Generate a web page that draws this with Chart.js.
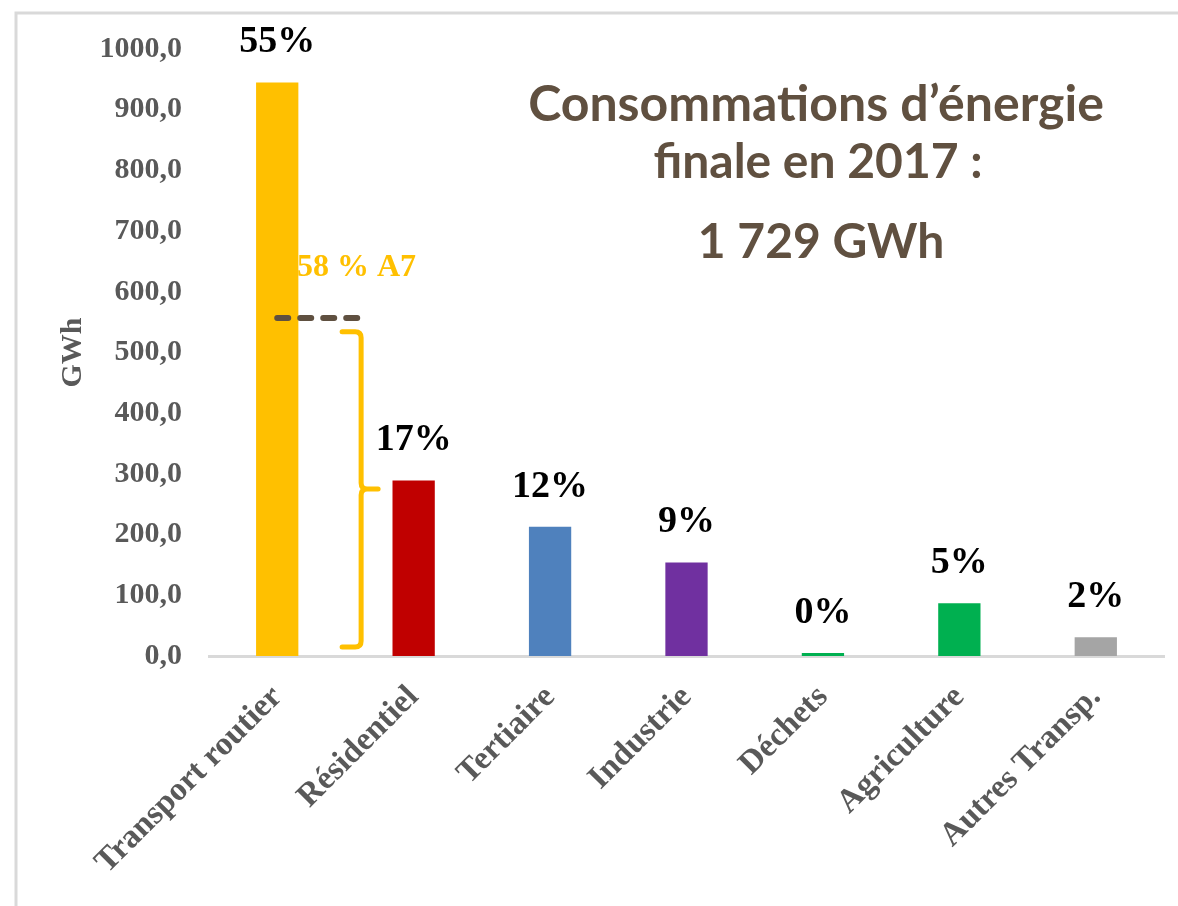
<!DOCTYPE html>
<html>
<head>
<meta charset="utf-8">
<script src="https://cdn.jsdelivr.net/npm/chart.js@4"></script>
<style>
  html, body { margin: 0; padding: 0; background: #fff; }
  #energyChart { display: block; }
</style>
</head>
<body>
<canvas id="energyChart" width="1178" height="906"></canvas>
<script>
const categories = ['Transport routier', 'Résidentiel', 'Tertiaire', 'Industrie', 'Déchets', 'Agriculture', 'Autres Transp.'];
const consumption = [945, 289, 213, 154, 5, 87, 31];
const shareLabels = ['55%', '17%', '12%', '9%', '0%', '5%', '2%'];
const barColors = ['#FFC000', '#C00000', '#4F81BD', '#7030A0', '#00B050', '#00B050', '#A5A5A5'];
const titleLines = ['Consommations d\u2019énergie', 'finale en 2017 :', '1 729 GWh'];
const a7Label = '58 % A7';
const a7Level = 557;
const braceRange = [534, 275, 15]; // top, middle, bottom (GWh)

const serif = '"Liberation Serif", "Times New Roman", serif';

const frame = {
  id: 'frame',
  beforeDraw(chart) {
    const c = chart.ctx;
    c.save();
    c.fillStyle = '#fff';
    c.fillRect(0, 0, chart.width, chart.height);
    c.strokeStyle = '#D9D9D9';
    c.lineWidth = 3;
    c.beginPath();
    c.moveTo(16, chart.height);
    c.lineTo(16, 13);
    c.lineTo(chart.width, 13);
    c.stroke();
    c.restore();
  }
};

const shareText = {
  id: 'shareText',
  afterDatasetsDraw(chart) {
    const c = chart.ctx;
    const bars = chart.getDatasetMeta(0).data;
    c.save();
    c.font = 'bold 38px ' + serif;
    c.fillStyle = '#000';
    c.textAlign = 'center';
    c.textBaseline = 'middle';
    bars.forEach((bar, i) => {
      c.fillText(shareLabels[i], bar.x, bar.y - 40);
    });
    c.restore();
  }
};

const notes = {
  id: 'notes',
  afterDraw(chart) {
    const c = chart.ctx;
    const x = chart.scales.x;
    const y = chart.scales.y;
    c.save();

    // title block
    c.fillStyle = '#605040';
    c.textAlign = 'center';
    c.textBaseline = 'middle';
    c.font = 'bold 50px Lato, "Open Sans", sans-serif';
    c.fillText(titleLines[0], 816, 105);
    c.font = 'bold 48px Lato, "Open Sans", sans-serif';
    c.fillText(titleLines[1], 818, 163);
    c.fillText(titleLines[2], 821, 243);

    // A7 share
    c.fillStyle = '#FFC000';
    c.font = 'bold 32px ' + serif;
    c.textAlign = 'left';
    c.fillText(a7Label, 297, 268);

    // dashed level
    const barX = chart.getDatasetMeta(0).data[0].x;
    const ly = y.getPixelForValue(a7Level);
    c.strokeStyle = '#5F5040';
    c.lineWidth = 6;
    c.lineCap = 'round';
    c.setLineDash([11, 12]);
    c.beginPath();
    c.moveTo(barX, ly);
    c.lineTo(x.getPixelForValue(0.62), ly);
    c.stroke();
    c.setLineDash([]);

    // brace
    const bx = x.getPixelForValue(0.615);
    const top = y.getPixelForValue(braceRange[0]);
    const mid = y.getPixelForValue(braceRange[1]);
    const bot = y.getPixelForValue(braceRange[2]);
    const r = 6;
    c.strokeStyle = '#FFC000';
    c.lineWidth = 5;
    c.lineCap = 'round';
    c.lineJoin = 'round';
    c.beginPath();
    c.moveTo(bx - 19, top);
    c.lineTo(bx - r, top);
    c.quadraticCurveTo(bx, top, bx, top + r);
    c.lineTo(bx, mid - r);
    c.quadraticCurveTo(bx, mid, bx + r, mid);
    c.lineTo(bx + 17, mid);
    c.moveTo(bx + r, mid);
    c.quadraticCurveTo(bx, mid, bx, mid + r);
    c.lineTo(bx, bot - r);
    c.quadraticCurveTo(bx, bot, bx - r, bot);
    c.lineTo(bx - 19, bot);
    c.stroke();

    c.restore();
  }
};

new Chart(document.getElementById('energyChart'), {
  type: 'bar',
  data: {
    labels: categories,
    datasets: [{
      data: consumption,
      backgroundColor: barColors,
      borderWidth: 0,
      barPercentage: 0.31,
      categoryPercentage: 1
    }]
  },
  options: {
    responsive: false,
    animation: false,
    devicePixelRatio: 1,
    layout: { padding: { top: 49, right: 14, left: 0, bottom: 0 } },
    plugins: {
      legend: { display: false },
      tooltip: { enabled: false }
    },
    scales: {
      y: {
        min: 0,
        max: 1000,
        grid: { display: false, drawTicks: false },
        border: { display: false },
        ticks: {
          stepSize: 100,
          padding: 27,
          color: '#595959',
          font: { family: serif, size: 30, weight: 'bold' },
          callback: v => v.toFixed(1).replace('.', ',')
        },
        title: {
          display: true,
          text: 'GWh',
          color: '#595959',
          font: { family: serif, size: 30, weight: 'bold' },
          padding: { top: 55, bottom: 0 }
        },
        afterFit(scale) { scale.width = 209; }
      },
      x: {
        grid: { display: false, drawTicks: false },
        border: { display: true, color: '#D9D9D9', width: 3 },
        ticks: {
          autoSkip: false,
          minRotation: 45,
          maxRotation: 45,
          padding: 22,
          color: '#595959',
          font: { family: serif, size: 33, weight: 'bold' }
        },
        afterFit(scale) { scale.height = 250; }
      }
    }
  },
  plugins: [frame, shareText, notes]
});
</script>
</body>
</html>
